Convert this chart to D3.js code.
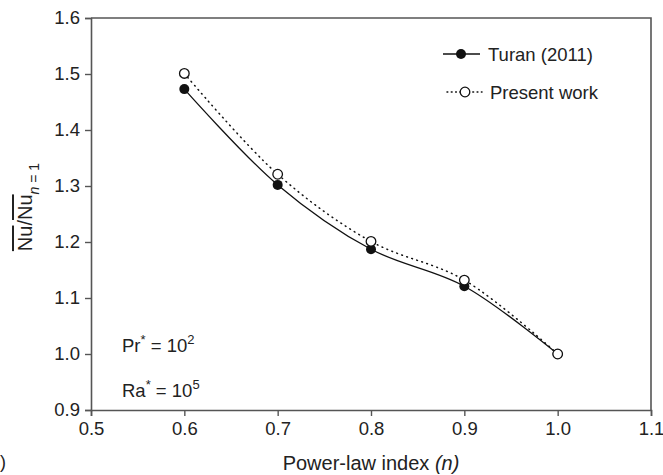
<!DOCTYPE html>
<html>
<head>
<meta charset="utf-8">
<script src="https://cdn.jsdelivr.net/npm/d3@7"></script>
<style>
  body { margin: 0; background: #fff; }
  text { font-family: "Liberation Sans", Arial, sans-serif; fill: #222; }
</style>
</head>
<body>
<div id="chart"></div>
<script>
// values
const powerIndex = [0.6, 0.7, 0.8, 0.9, 1.0];
const turan = [1.473, 1.302, 1.187, 1.121, 1.0];
const present = [1.501, 1.321, 1.201, 1.132, 1.0];
const xTicks = [0.5, 0.6, 0.7, 0.8, 0.9, 1.0, 1.1];
const yTicks = [0.9, 1.0, 1.1, 1.2, 1.3, 1.4, 1.5, 1.6];

const width = 663;
const height = 475;
const axisColor = "#555";

const svg = d3.select("#chart")
    .append("svg")
    .attr("width", width)
    .attr("height", height);

const x = d3.scaleLinear().domain([0.5, 1.1]).range([91, 651]);
const y = d3.scaleLinear().domain([0.9, 1.6]).range([410, 18]);

// axes
const xAxis = svg.append("g")
    .attr("transform", "translate(0," + y(0.9) + ")")
    .call(d3.axisBottom(x).tickValues(xTicks).tickFormat(d3.format(".1f")).tickSize(6).tickPadding(6));

const yAxis = svg.append("g")
    .attr("transform", "translate(" + x(0.5) + ",0)")
    .call(d3.axisLeft(y).tickValues(yTicks).tickFormat(d3.format(".1f")).tickSize(6).tickPadding(5));

[xAxis, yAxis].forEach(g => {
    g.select(".domain").attr("stroke", axisColor).attr("stroke-width", 1.6);
    g.selectAll(".tick line").attr("stroke", axisColor).attr("stroke-width", 1.4);
    g.selectAll(".tick text").attr("font-size", 18.5).attr("fill", "#222")
        .attr("font-family", "Liberation Sans, Arial, sans-serif");
});

// top and right frame
svg.append("path")
    .attr("d", `M${x(0.5)},${y(1.6)}H${x(1.1)}V${y(0.9)}`)
    .attr("fill", "none")
    .attr("stroke", axisColor)
    .attr("stroke-width", 1.6);

// curves
const line = d3.line()
    .x((d, i) => x(powerIndex[i]))
    .y(d => y(d))
    .curve(d3.curveCatmullRom.alpha(0.5));

svg.append("path")
    .datum(turan)
    .attr("fill", "none")
    .attr("stroke", "#111")
    .attr("stroke-width", 1.3)
    .attr("d", line);

svg.append("path")
    .datum(present)
    .attr("fill", "none")
    .attr("stroke", "#111")
    .attr("stroke-width", 1.5)
    .attr("stroke-dasharray", "0.8,4.5")
    .attr("stroke-linecap", "round")
    .attr("d", line);

svg.selectAll(".filled")
    .data(turan)
    .enter()
    .append("circle")
    .attr("class", "filled")
    .attr("cx", (d, i) => x(powerIndex[i]))
    .attr("cy", d => y(d))
    .attr("r", 5)
    .attr("fill", "#111");

svg.selectAll(".open")
    .data(present)
    .enter()
    .append("circle")
    .attr("class", "open")
    .attr("cx", (d, i) => x(powerIndex[i]))
    .attr("cy", d => y(d))
    .attr("r", 4.8)
    .attr("fill", "#fff")
    .attr("stroke", "#111")
    .attr("stroke-width", 1.3);

// legend
const legend = svg.append("g");
legend.append("line").attr("x1", 443).attr("x2", 480).attr("y1", 54).attr("y2", 54)
    .attr("stroke", "#111").attr("stroke-width", 1.3);
legend.append("circle").attr("cx", 461).attr("cy", 54).attr("r", 5).attr("fill", "#111");
legend.append("text").attr("x", 488).attr("y", 60.5).attr("font-size", 18.5).text("Turan (2011)");

legend.append("line").attr("x1", 447).attr("x2", 482).attr("y1", 92).attr("y2", 92)
    .attr("stroke", "#111").attr("stroke-width", 1.5)
    .attr("stroke-dasharray", "0.8,3.5").attr("stroke-linecap", "round");
legend.append("circle").attr("cx", 465).attr("cy", 92).attr("r", 4.8)
    .attr("fill", "#fff").attr("stroke", "#111").attr("stroke-width", 1.3);
legend.append("text").attr("x", 490).attr("y", 98.5).attr("font-size", 18.5).text("Present work");

// annotations
const pr = svg.append("text").attr("x", 122).attr("y", 352).attr("font-size", 18.5);
pr.append("tspan").text("Pr");
pr.append("tspan").attr("dy", -8).attr("font-size", 13).text("*");
pr.append("tspan").attr("dy", 8).text(" = 10");
pr.append("tspan").attr("dy", -8).attr("font-size", 13).text("2");

const ra = svg.append("text").attr("x", 122).attr("y", 397).attr("font-size", 18.5);
ra.append("tspan").text("Ra");
ra.append("tspan").attr("dy", -8).attr("font-size", 13).text("*");
ra.append("tspan").attr("dy", 8).text(" = 10");
ra.append("tspan").attr("dy", -8).attr("font-size", 13).text("5");

// axis titles
const xt = svg.append("text")
    .attr("x", 371).attr("y", 470)
    .attr("text-anchor", "middle")
    .attr("font-size", 20);
xt.append("tspan").text("Power-law index ");
xt.append("tspan").attr("font-style", "italic").text("(n)");

const yt = svg.append("text")
    .attr("transform", "translate(32,207) rotate(-90)")
    .attr("text-anchor", "middle")
    .attr("font-size", 20);
yt.append("tspan").style("text-decoration", "overline").text("Nu");
yt.append("tspan").text("/");
yt.append("tspan").style("text-decoration", "overline").text("Nu");
yt.append("tspan").attr("dy", 7).attr("font-size", 14).attr("font-style", "italic").text("n");
yt.append("tspan").attr("font-size", 14).text(" = 1");

// remnant of the panel label at the left edge
svg.append("text").attr("x", 0).attr("y", 468).attr("font-size", 18).text(")");
</script>
</body>
</html>
